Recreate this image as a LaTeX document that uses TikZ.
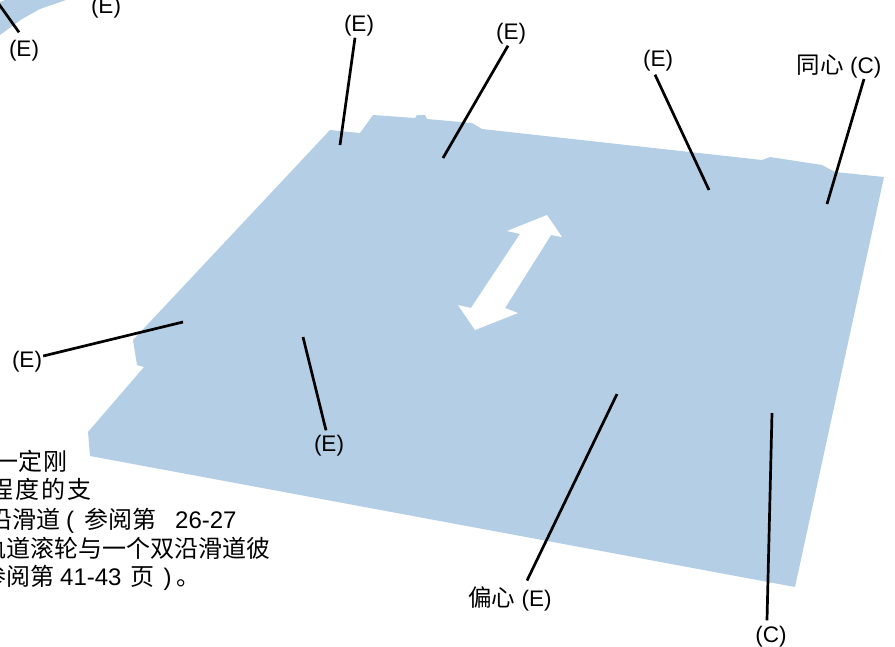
\documentclass[tikz,border=0pt]{standalone}
\usepackage{fontspec}
\setmainfont{Liberation Sans}
\newfontfamily\cjk{Noto Sans CJK SC}
\definecolor{plate}{RGB}{179,206,229}
\tikzset{
  lab/.style={inner sep=1pt,font=\fontsize{22.5}{24}\selectfont,text=black},
  body/.style={anchor=base west,inner sep=0pt,font=\fontsize{24}{26}\selectfont,text=black},
  leader/.style={draw=black,line width=2.7pt},
}
\newcommand{\zh}[1]{{\cjk\fontsize{23.5}{26}\selectfont #1}}
\newcommand{\zb}[1]{{\cjk\fontsize{24}{26}\selectfont #1}}
\begin{document}
\begin{tikzpicture}[x=1pt,y=-1pt]
\useasboundingbox (0,0) rectangle (895,646);
\clip (0,0) rectangle (895,646);
% plate
\fill[plate] (88,432) -- (144,367) -- (137,365) -- (133,340) -- (330,130) -- (360,133) -- (373,115)
  -- (415,118) -- (417,115) -- (425,115) -- (427,119) -- (472,123) -- (482,129) -- (762,160)
  -- (770,157) -- (822,165) -- (835,172) -- (884,177) -- (795,587) -- (90,456) -- cycle;
% corner of the neighbouring plate
\fill[plate] (0,2) -- (5,0) -- (66,0) -- (40,9) -- (22,19) -- (0,35) -- cycle;
% white double arrow
\fill[white] (547,215) -- (562,237) -- (551,235) -- (505,308) -- (518,313) -- (475,330) -- (458,305)
  -- (471,308) -- (520,234) -- (507,231) -- cycle;
% labels
\node[lab] (a) at (24,51) {(E)};
\node[lab] (b) at (106,8) {(E)};
\node[lab] (c) at (359,26) {(E)};
\node[lab] (d) at (511,34) {(E)};
\node[lab] (e) at (658,61) {(E)};
\node[lab] (f) at (839,66) {\zh{同心} (C)};
\node[lab] (g) at (27,362) {(E)};
\node[lab] (h) at (329,446) {(E)};
\node[lab] (i) at (510,599) {\zh{偏心} (E)};
\node[lab] (j) at (771,637) {(C)};
% free ends
\coordinate (a0) at (-4,0);
\coordinate (c0) at (340,145);
\coordinate (d0) at (443,158);
\coordinate (e0) at (709,190);
\coordinate (f0) at (827,204);
\coordinate (g0) at (183,322);
\coordinate (h0) at (303,337);
\coordinate (i0) at (617,394);
\coordinate (j0) at (772,413);
\draw[leader] ([xshift=-5pt,yshift=7pt]a.north) -- (a0);
\draw[leader] ([xshift=-4pt]c.south) -- (c0);
\draw[leader] ([xshift=-3pt]d.south) -- (d0);
\draw[leader] ([xshift=-3pt,yshift=-2pt]e.south) -- (e0);
\draw[leader] ([xshift=25pt]f.south) -- (f0);
\draw[leader] ([yshift=6pt]g.east) -- (g0);
\draw[leader] ([xshift=-3pt,yshift=4pt]h.north) -- (h0);
\draw[leader] ([xshift=17pt,yshift=5pt]i.north) -- (i0);
\draw[leader] ([xshift=-4pt,yshift=5pt]j.north) -- (j0);
% body text, cut by the left edge
\node[body] (t1) at (-6,470) {\zb{一定\hspace{1pt}刚}};
\node[body] (t2) at (-11,498) {\zb{程\hspace{2pt}度\hspace{2pt}的\hspace{2pt}支}};
\node[body] (t3) at (-12,528) {\zb{沿滑道}\hspace{6pt}(\hspace{10pt}\zb{参阅第}\hspace{19pt}26-27};
\node[body] (t4) at (-18,557) {\zb{轨道滚轮与一个双沿滑道彼}};
\node[body] (t5) at (-18,585) {\zb{参阅第}\hspace{6pt}41-43\hspace{9pt}\zb{页}\hspace{9pt})\hspace{5pt}\zb{。}};
\end{tikzpicture}
\end{document}
